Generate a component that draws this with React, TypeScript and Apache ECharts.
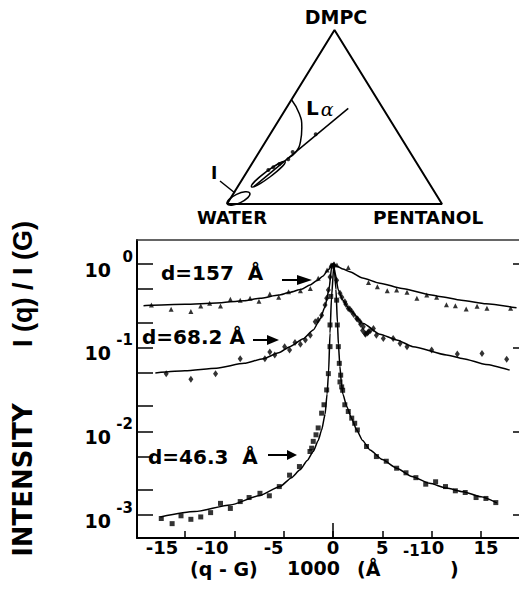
import { useEffect, useRef } from 'react';
import * as echarts from 'echarts';

// ---------- axis ticks ----------
const xTickValues = [-15, -10, -5, 0, 5, 10, 15];
const xLabelsA = [-15, -5, 5, 15];
const xLabelsB = [-10, 0, 10];
const yLabelValues = [0.001, 0.01, 0.1, 1];
const yTickValues = [0.001, 0.002, 0.005, 0.01, 0.02, 0.05, 0.1, 0.2, 0.5, 1];

// ---------- d = 157 Å (triangles) ----------
const q157 = [-18.4, -16.4, -14.4, -13.4, -12.5, -11.4, -10.4, -9.4, -8.4, -7.5, -6.4, -5.5, -4.5, -3.3, -2.3, -1.5, -0.6, -0.2, 0.1, 0.4, 1.55, 3.6, 4.5, 5.5, 6.45, 7.5, 8.5, 9.5, 10.5, 11.5, 12.4, 13.5, 14.6, 15.6, 18.0];
const i157 = [0.324, 0.288, 0.27, 0.315, 0.339, 0.315, 0.38, 0.37, 0.39, 0.36, 0.437, 0.40, 0.467, 0.48, 0.51, 0.675, 0.85, 0.97, 1.0, 0.97, 0.91, 0.60, 0.535, 0.48, 0.49, 0.46, 0.39, 0.426, 0.40, 0.327, 0.318, 0.291, 0.312, 0.296, 0.296];
const fitQ157 = [-19.2, -18.5, -15, -11.8, -9, -7.4, -5.5, -4.36, -3.2, -2.33, -1.65, -1.0, -0.5, 0, 0.5, 1.0, 1.7, 3, 4.76, 7, 9.8, 10.8, 13, 15.5, 18.6];
const fitI157 = [0.318, 0.322, 0.33, 0.342, 0.365, 0.39, 0.425, 0.46, 0.5, 0.56, 0.63, 0.72, 0.85, 1.0, 0.93, 0.87, 0.81, 0.68, 0.59, 0.51, 0.43, 0.41, 0.37, 0.335, 0.30];

// ---------- d = 68.2 Å (diamonds) ----------
const q68 = [-16.9, -14.4, -11.9, -9.4, -6.9, -6.4, -5.9, -4.9, -4.4, -3.85, -3.3, -2.8, -2.3, -1.8, -1.5, -1.15, -0.8, -0.64, -0.47, -0.3, -0.1, 0.1, 0.37, 0.71, 0.9, 1.2, 1.3, 1.55, 1.7, 1.9, 2.1, 2.4, 2.5, 2.74, 2.8, 3.0, 3.07, 3.24, 3.3, 3.5, 3.6, 3.8, 4.1, 4.4, 5.1, 6.1, 6.8, 7.5, 10.0, 12.6, 15.1, 17.6];
const i68 = [0.049, 0.042, 0.049, 0.074, 0.074, 0.089, 0.082, 0.103, 0.094, 0.115, 0.11, 0.124, 0.141, 0.204, 0.214, 0.245, 0.324, 0.39, 0.49, 0.70, 0.95, 0.97, 0.64, 0.447, 0.40, 0.355, 0.33, 0.295, 0.29, 0.27, 0.25, 0.224, 0.22, 0.204, 0.19, 0.16, 0.178, 0.148, 0.145, 0.15, 0.155, 0.16, 0.17, 0.141, 0.129, 0.129, 0.112, 0.103, 0.094, 0.084, 0.085, 0.073];
const fitQ68 = [-18.0, -15, -11.8, -9, -7.06, -5.5, -4.36, -3, -2.0, -1.3, -0.81, -0.4, -0.13, 0, 0.2, 0.54, 1.0, 1.72, 3.07, 4.76, 6.45, 8.1, 11.5, 13.2, 15.5, 17.9];
const fitI68 = [0.050, 0.053, 0.057, 0.065, 0.074, 0.087, 0.103, 0.128, 0.163, 0.22, 0.309, 0.5, 0.93, 1.0, 0.8, 0.49, 0.37, 0.28, 0.195, 0.145, 0.124, 0.103, 0.082, 0.074, 0.063, 0.054];

// ---------- d = 46.3 Å (squares) ----------
const q46 = [-17.4, -16.3, -15.4, -14.4, -13.4, -12.4, -11.4, -10.4, -9.4, -8.5, -7.4, -6.45, -5.44, -4.4, -3.4, -2.33, -2.16, -2.0, -1.72, -1.5, -1.15, -0.91, -0.64, -0.47, -0.3, -0.3, -0.23, 0.37, 0.44, 0.54, 0.64, 0.71, 0.78, 0.88, 0.98, 1.2, 1.55, 1.9, 2.2, 2.47, 3.4, 4.4, 5.4, 6.45, 7.4, 8.4, 9.4, 10.4, 11.4, 12.4, 13.4, 14.5, 15.5, 16.5];
const i46 = [0.00091, 0.00079, 0.00098, 0.00089, 0.00095, 0.00107, 0.00138, 0.0012, 0.00145, 0.00162, 0.00182, 0.0017, 0.00219, 0.003, 0.0038, 0.00575, 0.0063, 0.0076, 0.0091, 0.011, 0.0165, 0.0208, 0.0313, 0.049, 0.103, 0.187, 0.41, 0.37, 0.187, 0.103, 0.065, 0.039, 0.047, 0.034, 0.031, 0.0208, 0.0173, 0.0144, 0.0125, 0.0104, 0.0066, 0.005, 0.0044, 0.00363, 0.0032, 0.0028, 0.00234, 0.0025, 0.00219, 0.00195, 0.00186, 0.00162, 0.00158, 0.00141];
const fitQ46 = [-17.5, -14, -10.4, -7.5, -5.37, -4.2, -3.34, -2.6, -2.0, -1.5, -1.15, -0.8, -0.6, -0.45, -0.3, -0.15, 0.1, 0.3, 0.45, 0.55, 0.7, 0.85, 1.0, 1.39, 1.9, 2.4, 3.0, 3.75, 5, 6.45, 8, 9.8, 11.5, 13.2, 15, 16.6];
const fitI46 = [0.00095, 0.0011, 0.00132, 0.0017, 0.00219, 0.0028, 0.00347, 0.0045, 0.00575, 0.0078, 0.0104, 0.016, 0.028, 0.05, 0.15, 0.4, 1.0, 0.5, 0.2, 0.11, 0.06, 0.038, 0.028, 0.0199, 0.0142, 0.0104, 0.0078, 0.006, 0.0046, 0.00363, 0.0029, 0.0024, 0.0021, 0.0019, 0.00165, 0.0014];

// ---------- ternary inset (x = pentanol + dmpc/2, y = dmpc) ----------
const triangleX = [0, 0.5, 1, 0];
const triangleY = [0, 1, 0, 0];
const dilutionX = [0.125, 0.564];
const dilutionY = [0.10, 0.55];
const lalphaX = [0.301, 0.336, 0.348, 0.342, 0.318, 0.283];
const lalphaY = [0.598, 0.52, 0.44, 0.36, 0.295, 0.262];
const sampleX = [0.4126, 0.3054, 0.285, 0.2434, 0.2155, 0.1922];
const sampleY = [0.4006, 0.2989, 0.257, 0.2299, 0.2109, 0.1954];

// ---------- layout ----------
const X_MIN = -19.86;
const X_MAX = 18.85;
const Y_MIN = -3.274;
const Y_MAX = 0.287;
const FONT = 'DejaVu Sans';
const xLabelShift: Record<string, number> = { '-15': -23, '-10': -22, '-5': -10, '0': 0, '5': 0, '10': 0, '15': 5 };

const logPairs = (xs: number[], ys: number[]) => xs.map((x, i) => [x, Math.log10(ys[i])]);
const pairs = (xs: number[], ys: number[]) => xs.map((x, i) => [x, ys[i]]);

function buildOption() {
  const xRich: Record<string, any> = {};
  xTickValues.forEach((v, i) => {
    const s = xLabelShift[String(v)] || 0;
    xRich['p' + i] = {
      fontFamily: FONT, fontWeight: 'bold', fontSize: 18, lineHeight: 14, color: '#000',
      padding: s < 0 ? [0, -2 * s, 0, 0] : [0, 0, 0, 2 * s],
    };
  });
  const xLabel = (values: number[]) => ({
    customValues: values, margin: 2, hideOverlap: false, showMinLabel: true, showMaxLabel: true,
    formatter: (v: number) => `{p${xTickValues.indexOf(Math.round(v))}|${Math.round(v)}}`,
    rich: xRich,
  });

  const baseAxis = {
    type: 'value' as const,
    splitLine: { show: false },
  };

  const text = (t: string, x: number, y: number, size: number, extra: any = {}, rotation = 0) => ({
    type: 'text',
    x, y, rotation,
    silent: true,
    style: {
      text: t, fill: '#000', fontFamily: FONT, fontWeight: 'bold', fontSize: size, lineHeight: size,
      textAlign: 'left', textVerticalAlign: 'middle', ...extra,
    },
  });
  const arrow = (x1: number, x2: number, headStart: number, y: number, hh: number) => [
    { type: 'line', silent: true, shape: { x1, y1: y, x2: headStart, y2: y }, style: { stroke: '#000', lineWidth: 2 } },
    { type: 'polygon', silent: true, shape: { points: [[headStart, y - hh], [x2, y], [headStart, y + hh]] }, style: { fill: '#000' } },
  ];

  return {
    animation: false,
    backgroundColor: '#fff',
    grid: [
      { left: 137, top: 240, width: 382, height: 298, outerBoundsMode: 'none' },
      { left: 227, top: 30, width: 215, height: 174, outerBoundsMode: 'none' },
    ],
    xAxis: [
      {
        ...baseAxis, gridIndex: 0, position: 'bottom', min: X_MIN, max: X_MAX,
        axisLine: { onZero: false, lineStyle: { color: '#000', width: 2 } },
        axisTick: { inside: true, length: 7, customValues: xTickValues, lineStyle: { color: '#000', width: 1.5 } },
        axisLabel: xLabel(xLabelsA),
      },
      {
        ...baseAxis, gridIndex: 0, position: 'top', min: X_MIN, max: X_MAX,
        axisLine: { onZero: false, lineStyle: { color: '#333', width: 1.5 } },
        axisTick: { show: false }, axisLabel: { show: false },
      },
      {
        ...baseAxis, gridIndex: 0, position: 'bottom', min: X_MIN, max: X_MAX,
        axisLine: { show: false, onZero: false },
        axisTick: { inside: true, length: 15, customValues: [0], lineStyle: { color: '#000', width: 1.5 } },
        axisLabel: xLabel(xLabelsB),
      },
      { ...baseAxis, gridIndex: 1, min: 0, max: 1, show: false },
    ],
    yAxis: [
      {
        ...baseAxis, gridIndex: 0, position: 'left', min: Y_MIN, max: Y_MAX,
        axisLine: { onZero: false, lineStyle: { color: '#000', width: 2 } },
        axisTick: { inside: true, length: 16, customValues: yTickValues.map(Math.log10), lineStyle: { color: '#000', width: 1.5 } },
        axisLabel: {
          customValues: yLabelValues.map(Math.log10), margin: 4, hideOverlap: false, showMinLabel: true, showMaxLabel: true,
          formatter: (v: number) => `{b|10}{e|${Math.round(v)}}`,
          rich: {
            b: { fontFamily: FONT, fontWeight: 'bold', fontSize: 19, color: '#000', lineHeight: 30, verticalAlign: 'bottom' },
            e: { fontFamily: FONT, fontWeight: 'bold', fontSize: 15, color: '#000', lineHeight: 30, verticalAlign: 'top', width: 22, align: 'right' },
          },
        },
      },
      {
        ...baseAxis, gridIndex: 0, position: 'right', min: Y_MIN, max: Y_MAX,
        axisLine: { show: false, onZero: false },
        axisTick: { inside: true, length: 6, customValues: yLabelValues.map(Math.log10), lineStyle: { color: '#000', width: 1.5 } },
        axisLabel: { show: false },
      },
      { ...baseAxis, gridIndex: 1, min: 0, max: 1, show: false },
    ],
    series: [
      { name: 'fit 157', type: 'line', xAxisIndex: 0, yAxisIndex: 0, data: logPairs(fitQ157, fitI157), showSymbol: false, smooth: 0.2, smoothMonotone: 'x', lineStyle: { color: '#000', width: 1.5 } },
      { name: 'fit 68.2', type: 'line', xAxisIndex: 0, yAxisIndex: 0, data: logPairs(fitQ68, fitI68), showSymbol: false, smooth: 0.2, smoothMonotone: 'x', lineStyle: { color: '#000', width: 1.5 } },
      { name: 'fit 46.3', type: 'line', xAxisIndex: 0, yAxisIndex: 0, data: logPairs(fitQ46, fitI46), showSymbol: false, smooth: 0.2, smoothMonotone: 'x', lineStyle: { color: '#000', width: 1.5 } },
      { name: 'd=157', type: 'scatter', xAxisIndex: 0, yAxisIndex: 0, data: logPairs(q157, i157), symbol: 'triangle', symbolSize: 5, itemStyle: { color: '#000' } },
      { name: 'd=68.2', type: 'scatter', xAxisIndex: 0, yAxisIndex: 0, data: logPairs(q68, i68), symbol: 'diamond', symbolSize: [5, 7], itemStyle: { color: '#000' } },
      { name: 'd=46.3', type: 'scatter', xAxisIndex: 0, yAxisIndex: 0, data: logPairs(q46, i46), symbol: 'rect', symbolSize: 5, itemStyle: { color: '#000' } },
      // inset
      { name: 'triangle', type: 'line', xAxisIndex: 3, yAxisIndex: 2, data: pairs(triangleX, triangleY), showSymbol: false, lineStyle: { color: '#000', width: 2 } },
      { name: 'dilution', type: 'line', xAxisIndex: 3, yAxisIndex: 2, data: pairs(dilutionX, dilutionY), showSymbol: false, lineStyle: { color: '#000', width: 1.5 } },
      { name: 'L alpha', type: 'line', xAxisIndex: 3, yAxisIndex: 2, data: pairs(lalphaX, lalphaY), showSymbol: false, smooth: 0.5, lineStyle: { color: '#000', width: 1.5 } },
      { name: 'samples', type: 'scatter', xAxisIndex: 3, yAxisIndex: 2, data: pairs(sampleX, sampleY), symbol: 'circle', symbolSize: 4, itemStyle: { color: '#000' } },
    ],
    graphic: [
      // inset labels and shapes
      text('DMPC', 336, 17, 19, { textAlign: 'center' }),
      text('WATER', 197, 217, 18),
      text('PENTANOL', 373, 217, 18.5),
      {
        type: 'text', x: 306, y: 108, silent: true,
        style: {
          text: '{L|L}{a|α}', textAlign: 'left', textVerticalAlign: 'middle',
          rich: {
            L: { fontFamily: FONT, fontWeight: 'bold', fontSize: 20, lineHeight: 20, fill: '#000', verticalAlign: 'bottom' },
            a: { fontFamily: 'DejaVu Serif', fontStyle: 'italic', fontSize: 19, lineHeight: 20, fill: '#000', verticalAlign: 'bottom', padding: [0, 0, 0, 2] },
          },
        },
      },
      text('I', 211, 173, 17),
      { type: 'line', silent: true, shape: { x1: 220, y1: 181, x2: 235, y2: 193 }, style: { stroke: '#000', lineWidth: 1.5 } },
      { type: 'ellipse', silent: true, x: 238.5, y: 198.5, rotation: 0.44, shape: { cx: 0, cy: 0, rx: 12.5, ry: 4.5 }, style: { stroke: '#000', fill: 'none', lineWidth: 1.5 } },
      { type: 'ellipse', silent: true, x: 268.3, y: 174.2, rotation: 0.644, shape: { cx: 0, cy: 0, rx: 21, ry: 3.2 }, style: { stroke: '#000', fill: '#fff', lineWidth: 1.5 } },
      // main annotations
      text('d=157  Å', 161, 273, 20),
      ...arrow(282, 312, 297, 280, 5),
      text('d=68.2 Å', 142, 337, 20),
      ...arrow(253, 279, 267, 340, 5),
      text('d=46.3  Å', 148, 457, 20),
      ...arrow(268, 297, 287, 455, 5),
      // axis titles
      text('INTENSITY', 23, 480, 26, { textAlign: 'center' }, Math.PI / 2),
      text('I (q) / I (G)', 23, 284, 27, { textAlign: 'center', fontFamily: 'Liberation Sans' }, Math.PI / 2),
      text('(q - G)', 190, 569, 19),
      text('1000', 287, 568, 19),
      text('(Å', 357, 569, 19),
      text('-1', 403, 551, 15),
      text(')', 450, 569, 19),
    ],
  };
}

export default function App() {
  const ref = useRef<HTMLDivElement>(null);
  useEffect(() => {
    const chart = echarts.init(ref.current!, null, { renderer: 'svg' });
    chart.setOption(buildOption() as any);
    return () => chart.dispose();
  }, []);
  return (
    <div
      ref={ref}
      style={{ position: 'absolute', left: 0, top: 0, width: 519, height: 604, background: '#fff' }}
    />
  );
}
